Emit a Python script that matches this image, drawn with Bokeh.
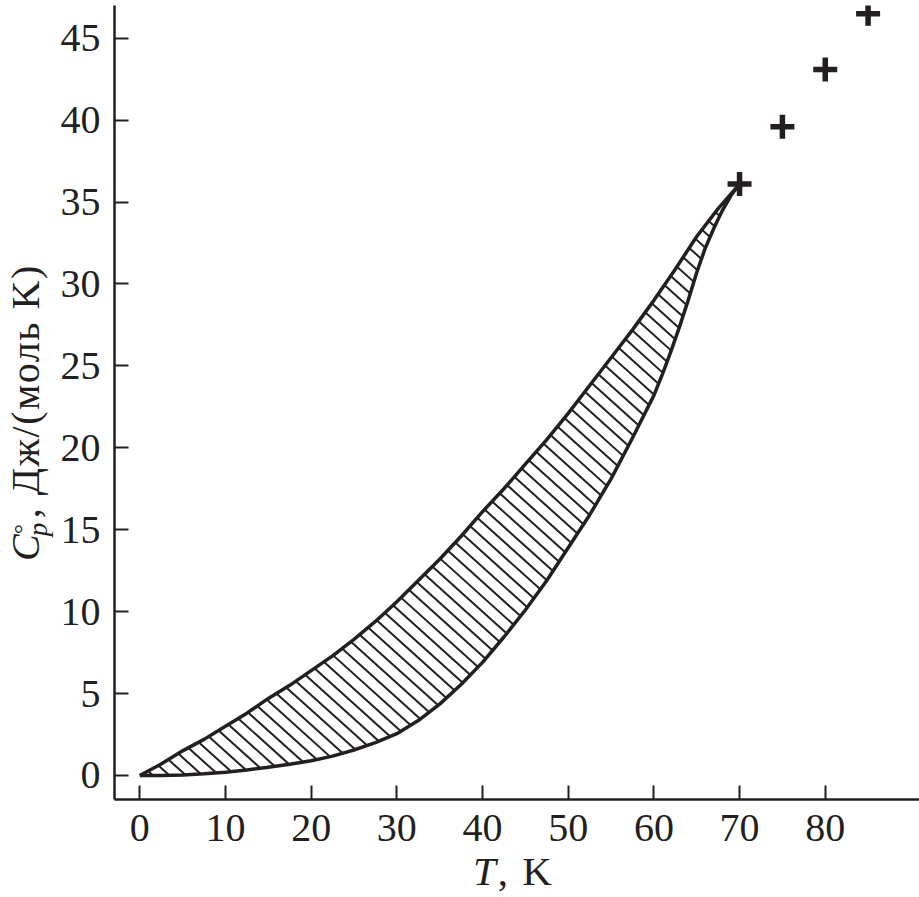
import math
import numpy as np
from bokeh.plotting import figure
from bokeh.models import Range1d, FixedTicker, Div
from bokeh.layouts import row, column
from bokeh.embed import file_html
from bokeh.resources import INLINE

# ---- data ----
T_upper = [0, 2.5, 5, 7.5, 10, 12.5, 15, 17.5, 20, 22.5, 25, 27.5, 30, 32.5, 35,
           37.5, 40, 42.5, 45, 47.5, 50, 52.5, 55, 57.5, 60, 62.5, 65, 67.5, 70]
Cp_upper = [0.0, 0.7, 1.5, 2.2, 3.0, 3.8, 4.7, 5.5, 6.4, 7.3, 8.3, 9.4, 10.6, 11.9, 13.2,
            14.6, 16.1, 17.5, 19.0, 20.5, 22.1, 23.8, 25.5, 27.2, 29.0, 30.9, 32.9, 34.6, 36.1]

T_lower = [0, 2.5, 5, 7.5, 10, 12.5, 15, 17.5, 20, 22.5, 25, 27.5, 30, 32.5, 35,
           37.5, 40, 42.5, 45, 47.5, 50, 52.5, 55, 57.5, 60, 61, 62, 63, 64, 65,
           66, 67, 68, 69, 70]
Cp_lower = [0.0, 0.0, 0.03, 0.1, 0.2, 0.33, 0.5, 0.68, 0.9, 1.18, 1.55, 2.0, 2.55, 3.35, 4.35,
            5.55, 6.9, 8.45, 10.1, 11.9, 13.9, 15.9, 18.1, 20.6, 23.2, 24.5, 25.9, 27.4, 29.0, 30.7,
            32.2, 33.4, 34.5, 35.4, 36.1]

T_points = [70, 75, 80, 85]
Cp_points = [36.1, 39.6, 43.1, 46.5]

x_ticks = [0, 10, 20, 30, 40, 50, 60, 70, 80]
y_ticks = [0, 5, 10, 15, 20, 25, 30, 35, 40, 45]

x_title_italic = "T"
x_title_rest = ", K"
y_title_main = "C"
y_title_sup = "°"
y_title_sub = "p"
y_title_rest = ", Дж/(моль K)"

INK = "#231f20"
FONT = "Liberation Serif"

X0, X1 = -2.95, 91.0
Y0, Y1 = -1.47, 47.0
FRAME_W, FRAME_H = 805, 794

p = figure(width=863, height=862,
           x_range=Range1d(X0, X1), y_range=Range1d(Y0, Y1),
           output_backend="svg", toolbar_location=None,
           min_border_left=58, min_border_bottom=63,
           min_border_top=5, min_border_right=0)
p.outline_line_color = None
p.xgrid.visible = False
p.ygrid.visible = False

for ax in (p.xaxis[0], p.yaxis[0]):
    ax.axis_line_color = INK
    ax.axis_line_width = 2.5
    ax.major_tick_line_color = INK
    ax.major_tick_line_width = 2
    ax.major_tick_in = 14
    ax.major_tick_out = 0
    ax.minor_tick_line_color = None
    ax.major_label_text_font = FONT
    ax.major_label_text_font_size = "40px"
    ax.major_label_text_color = INK

p.xaxis[0].ticker = FixedTicker(ticks=x_ticks)
p.yaxis[0].ticker = FixedTicker(ticks=y_ticks)
p.xaxis[0].major_label_standoff = 15
p.yaxis[0].major_label_standoff = 14

# ---- hatching between the two curves: parallel strokes at ~42 deg on screen ----
px_per_T = FRAME_W / (X1 - X0)
px_per_C = FRAME_H / (Y1 - Y0)
hatch_angle = math.radians(42)
s = math.tan(hatch_angle) * px_per_T / px_per_C          # dC/dT of a stroke (downward)
step_px = 16.5                                              # horizontal stroke spacing
dk = s * step_px / px_per_T

Tu_arr, Cu_arr = np.array(T_upper, float), np.array(Cp_upper, float)
Tl_arr, Cl_arr = np.array(T_lower, float), np.array(Cp_lower, float)
fu = Cu_arr + s * Tu_arr
fl = Cl_arr + s * Tl_arr
ks = np.arange(0.8 * dk, min(fu[-1], fl[-1]) - 0.3 * dk, dk)
hx0 = np.interp(ks, fu, Tu_arr)
hy0 = np.interp(hx0, Tu_arr, Cu_arr)
hx1 = np.interp(ks, fl, Tl_arr)
hy1 = np.interp(hx1, Tl_arr, Cl_arr)
p.segment(hx0, hy0, hx1, hy1, line_width=2, line_color=INK)

p.line(T_upper, Cp_upper, line_width=3.5, line_color=INK, line_join="round")
p.line(T_lower, Cp_lower, line_width=3.5, line_color=INK, line_join="round")

p.scatter(T_points, Cp_points, marker="cross", size=24, line_width=5.5,
          line_color=INK)

font_css = "font-family:'Liberation Serif';line-height:normal;color:%s;" % INK

ylab_html = (
    '<div style="position:relative;width:56px;height:897px;">'
    '<div style="position:absolute;left:2px;top:561px;transform:rotate(-90deg);'
    'transform-origin:0 0;white-space:nowrap;font-size:40px;' + font_css + '">'
    '<i>' + y_title_main + '</i>'
    '<span style="display:inline-block;position:relative;width:16px;height:30px;">'
    '<span style="position:absolute;left:0px;top:-1px;font-size:26px;line-height:normal;">'
    + y_title_sup + '</span>'
    '<i style="position:absolute;left:-2px;top:14px;font-size:27px;line-height:normal;">'
    + y_title_sub + '</i></span>'
    '<span style="letter-spacing:1.5px;">' + y_title_rest + '</span></div></div>'
)
xlab_html = (
    '<div style="position:relative;width:863px;height:35px;">'
    '<div style="position:absolute;left:417px;top:-15px;white-space:nowrap;'
    'font-size:41px;letter-spacing:2px;' + font_css + '">'
    '<i>' + x_title_italic + '</i>' + x_title_rest + '</div></div>'
)

ydiv = Div(text=ylab_html, width=56, height=897, margin=(0, 0, 0, 0),
           styles={"overflow": "visible"})
xdiv = Div(text=xlab_html, width=863, height=35, margin=(0, 0, 0, 0),
           styles={"overflow": "visible"})

layout = row(ydiv, column(p, xdiv, spacing=0), spacing=0)

open("out.html", "w").write(file_html(layout, INLINE))
